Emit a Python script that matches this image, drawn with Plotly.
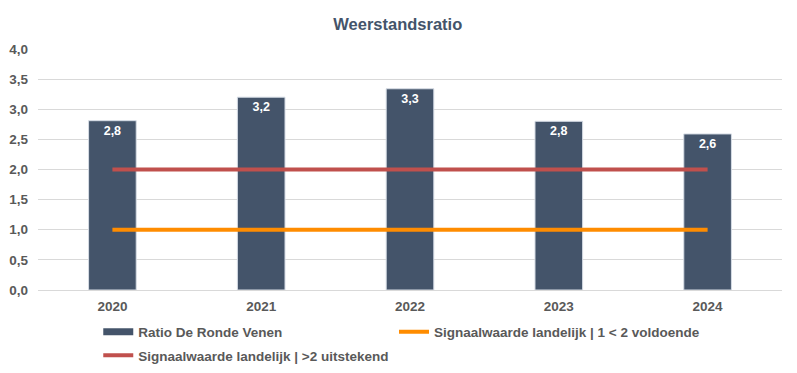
import plotly.graph_objects as go

years = ["2020", "2021", "2022", "2023", "2024"]
ratio = [2.81, 3.2, 3.34, 2.8, 2.59]
signal_voldoende = [1.0, 1.0, 1.0, 1.0, 1.0]
signal_uitstekend = [2.0, 2.0, 2.0, 2.0, 2.0]
y_ticks = [0, 0.5, 1.0, 1.5, 2.0, 2.5, 3.0, 3.5, 4.0]

font_fam = "Liberation Sans, Arial, sans-serif"
BAR = "#44546A"
LEG_FONT = dict(family=font_fam, size=13.5, color="#595959", weight="bold")

fig = go.Figure()
fig.add_trace(go.Bar(
    x=years, y=ratio, name="Ratio De Ronde Venen",
    marker=dict(color=BAR, line=dict(color="#D6DCE5", width=1)),
    width=0.32, showlegend=False,
    text=[f"{v:.1f}".replace(".", ",") for v in ratio],
    textposition="inside", insidetextanchor="end",
    textfont=dict(color="white", size=12.5, family=font_fam, weight="bold"),
    cliponaxis=False,
))
# legend-only entry giving the bar series a wide rectangular key like the original
fig.add_trace(go.Scatter(
    x=[years[0]], y=[None], mode="lines", name="Ratio De Ronde Venen",
    line=dict(color=BAR, width=7), legend="legend", legendgroup="a",
    hoverinfo="skip",
))
fig.add_trace(go.Scatter(
    x=years, y=signal_voldoende, mode="lines",
    name="Signaalwaarde landelijk | 1 < 2 voldoende",
    line=dict(color="#FF8C00", width=4), legend="legend2", legendgroup="b",
))
fig.add_trace(go.Scatter(
    x=years, y=signal_uitstekend, mode="lines",
    name="Signaalwaarde landelijk | >2 uitstekend",
    line=dict(color="#C0504D", width=4), legend="legend", legendgroup="c",
))

legend_y = 0.155
# the page adds an 8px body margin, so the figure is 8px smaller on each used side
fig.update_layout(
    width=789, height=365,
    paper_bgcolor="white", plot_bgcolor="white",
    separators=",.",
    margin=dict(l=30, r=15, t=41, b=83, autoexpand=False),
    title=dict(text="<b>Weerstandsratio</b>", x=0.494, xanchor="center",
               y=1 - 16/365, yanchor="middle",
               font=dict(family=font_fam, size=16.5, color="#44546A")),
    font=dict(family=font_fam, size=13.5, color="#595959"),
    showlegend=True,
    legend=dict(orientation="v", x=0.081, xanchor="left", xref="paper",
                y=legend_y, yanchor="top", yref="container",
                traceorder="grouped", tracegroupgap=3,
                font=LEG_FONT, itemwidth=30),
    legend2=dict(orientation="v", x=0.4785, xanchor="left", xref="paper",
                 y=legend_y, yanchor="top", yref="container",
                 font=LEG_FONT, itemwidth=30),
    bargap=0.68,
)
fig.update_xaxes(
    type="category", showgrid=False, showline=False, zeroline=False,
    tickfont=dict(family=font_fam, size=13.5, color="#595959", weight="bold"),
    ticks="", ticklen=0, automargin=False, ticklabelstandoff=6,
)
fig.update_yaxes(
    range=[0, 4.0], tickvals=y_ticks, tickformat=".1f",
    showgrid=True, gridcolor="#D9D9D9", gridwidth=1,
    zeroline=True, zerolinecolor="#D9D9D9", zerolinewidth=1,
    showline=False, ticks="", automargin=False, ticklabelstandoff=9,
    tickfont=dict(family=font_fam, size=13.5, color="#595959", weight="bold"),
)

fig.write_html("out.html")
